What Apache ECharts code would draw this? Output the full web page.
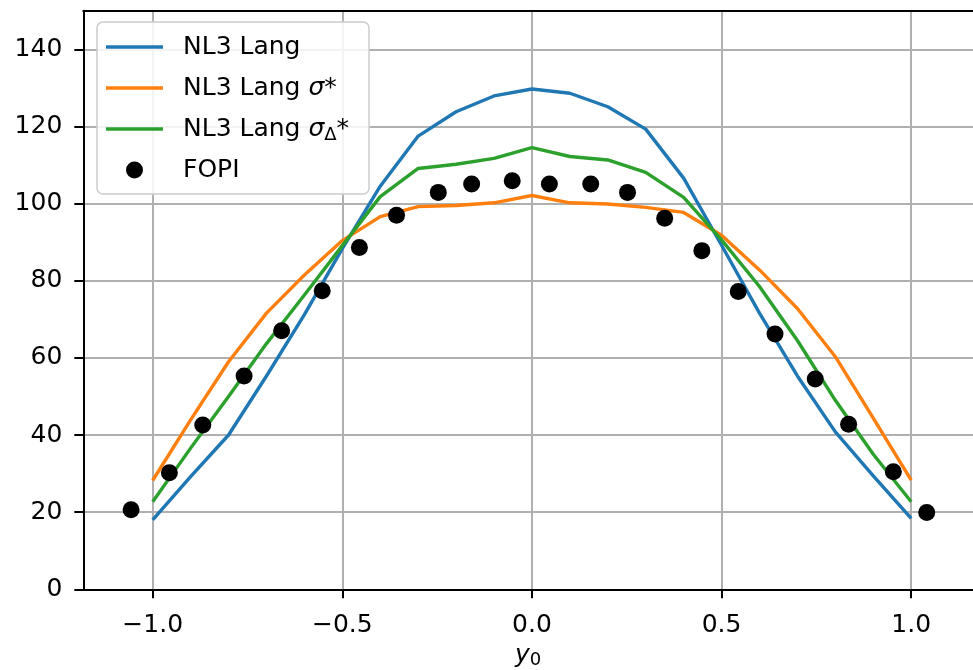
<!DOCTYPE html>
<html>
<head>
<meta charset="utf-8">
<script src="https://cdn.jsdelivr.net/npm/echarts@6/dist/echarts.min.js"></script>
<style>
  html, body { margin: 0; padding: 0; background: #ffffff; }
  #chart { width: 973px; height: 670px; }
</style>
</head>
<body>
<div id="chart"></div>
<script>
// Rapidity grid of the model curves
const rapidity = [-1.0, -0.9, -0.8, -0.7, -0.6, -0.5, -0.4, -0.3, -0.2, -0.1, 0.0,
                  0.1, 0.2, 0.3, 0.4, 0.5, 0.6, 0.7, 0.8, 0.9, 1.0];

// NL3 Lang
const nl3Lang = [18.0, 29.2, 40.0, 55.3, 71.2, 88.3, 104.5, 117.5, 123.8, 127.9, 129.7,
                 128.6, 125.1, 119.3, 106.6, 89.2, 71.6, 55.3, 40.8, 29.4, 18.4];
// NL3 Lang sigma*
const nl3LangSigma = [28.2, 43.9, 59.0, 71.6, 81.5, 90.4, 96.6, 99.2, 99.5, 100.2, 102.1,
                      100.2, 99.9, 99.0, 97.7, 91.8, 82.8, 72.8, 60.3, 44.4, 28.3];
// NL3 Lang sigma_Delta*
const nl3LangSigmaDelta = [22.7, 36.6, 50.0, 63.7, 76.3, 89.1, 101.8, 109.1, 110.2, 111.7, 114.5,
                           112.2, 111.3, 108.1, 101.6, 90.6, 78.5, 64.5, 49.0, 35.0, 22.7];

// FOPI measurements
const fopiY0 = [-1.057, -0.956, -0.868, -0.759, -0.660, -0.553, -0.455, -0.357, -0.247, -0.159, -0.052,
                0.046, 0.155, 0.252, 0.350, 0.448, 0.544, 0.641, 0.747, 0.835, 0.953, 1.041];
const fopiValues = [20.6, 30.2, 42.6, 55.3, 67.0, 77.4, 88.6, 97.0, 102.9, 105.1, 105.9,
                    105.1, 105.1, 102.9, 96.2, 87.8, 77.2, 66.2, 54.5, 42.8, 30.5, 19.9];

// Axis ticks
const xTicks = [-1.0, -0.5, 0.0, 0.5, 1.0];
const yTicks = [0, 20, 40, 60, 80, 100, 120, 140];

const seriesNames = ['NL3 Lang', 'NL3 Lang \u03c3*', 'NL3 Lang \u03c3\u0394*', 'FOPI'];
const legendLabels = {
  'NL3 Lang': 'NL3 Lang',
  'NL3 Lang \u03c3*': 'NL3 Lang {it|\u03c3}*',
  'NL3 Lang \u03c3\u0394*': 'NL3 Lang {it|\u03c3}{sub|\u0394}*',
  'FOPI': 'FOPI'
};

const FONT = 'DejaVu Sans';
const LINE_ICON = 'path://M0,0L57,0L57,3.4L0,3.4Z';
const zip = (xs, ys) => xs.map((x, i) => [x, ys[i]]);

function lineSeries(name, values, color) {
  return {
    name: name,
    type: 'line',
    data: zip(rapidity, values),
    symbol: 'none',
    showSymbol: false,
    color: color,
    lineStyle: { color: color, width: 3.4, join: 'round' },
    animation: false,
    z: 2
  };
}

const chart = echarts.init(document.getElementById('chart'), null, { renderer: 'canvas' });

chart.setOption({
  animation: false,
  backgroundColor: '#ffffff',
  grid: { left: 83.3, right: 0, top: 10.7, bottom: 80.7, outerBoundsMode: 'none', containLabel: false },
  legend: {
    data: [
      { name: seriesNames[0], icon: LINE_ICON },
      { name: seriesNames[1], icon: LINE_ICON },
      { name: seriesNames[2], icon: LINE_ICON },
      { name: seriesNames[3], icon: 'circle' }
    ],
    orient: 'vertical',
    left: 97, top: 22,
    padding: [10, 20, 9, 9],
    itemGap: 11,
    itemWidth: 57,
    itemHeight: 17,
    backgroundColor: 'rgba(255,255,255,0.85)',
    borderColor: '#cccccc',
    borderWidth: 1.5,
    borderRadius: 6,
    selectedMode: false,
    formatter: name => legendLabels[name],
    textStyle: {
      fontFamily: FONT, fontSize: 25, color: '#000000', lineHeight: 30,
      padding: [0, 0, 0, 15],
      rich: {
        it: { fontFamily: FONT, fontSize: 25, fontStyle: 'italic', color: '#000000' },
        sub: { fontFamily: FONT, fontSize: 18, color: '#000000', padding: [12, 0, 0, 0] }
      }
    }
  },
  xAxis: [{
    type: 'value',
    min: -1.183, max: 1.163,
    name: '{it|y}{sub|0}',
    nameLocation: 'middle',
    nameGap: 51,
    nameTextStyle: {
      rich: {
        it: { fontFamily: FONT, fontSize: 25, fontStyle: 'italic', color: '#000000' },
        sub: { fontFamily: FONT, fontSize: 18, color: '#000000', padding: [10, 0, 0, 0] }
      }
    },
    axisLine: { show: true, onZero: false, lineStyle: { color: '#000000', width: 2 } },
    axisTick: { show: true, length: 9, lineStyle: { color: '#000000', width: 2 }, customValues: xTicks },
    axisLabel: {
      customValues: xTicks,
      margin: 24,
      fontFamily: FONT, fontSize: 25, color: '#000000',
      formatter: v => v.toFixed(1).replace('-', '\u2212')
    },
    splitLine: { show: true, lineStyle: { color: '#b0b0b0', width: 2 } }
  }, {
    // top spine
    type: 'value',
    position: 'top',
    min: -1.183, max: 1.163,
    axisLine: { show: true, onZero: false, lineStyle: { color: '#000000', width: 2 } },
    axisTick: { show: false },
    axisLabel: { show: false },
    splitLine: { show: false }
  }],
  yAxis: {
    type: 'value',
    min: 0, max: 150,
    axisLine: { show: true, onZero: false, lineStyle: { color: '#000000', width: 2 } },
    axisTick: { show: true, length: 9, lineStyle: { color: '#000000', width: 2 }, customValues: yTicks },
    axisLabel: {
      customValues: yTicks,
      margin: 21,
      fontFamily: FONT, fontSize: 25, color: '#000000'
    },
    splitLine: { show: true, lineStyle: { color: '#b0b0b0', width: 2 } }
  },
  series: [
    lineSeries(seriesNames[0], nl3Lang, '#1f77b4'),
    lineSeries(seriesNames[1], nl3LangSigma, '#ff7f0e'),
    lineSeries(seriesNames[2], nl3LangSigmaDelta, '#2ca02c'),
    {
      name: seriesNames[3],
      type: 'scatter',
      data: zip(fopiY0, fopiValues),
      symbol: 'circle',
      symbolSize: 17,
      color: '#000000',
      itemStyle: { color: '#000000', opacity: 1 },
      animation: false,
      z: 3
    }
  ]
});
</script>
</body>
</html>
